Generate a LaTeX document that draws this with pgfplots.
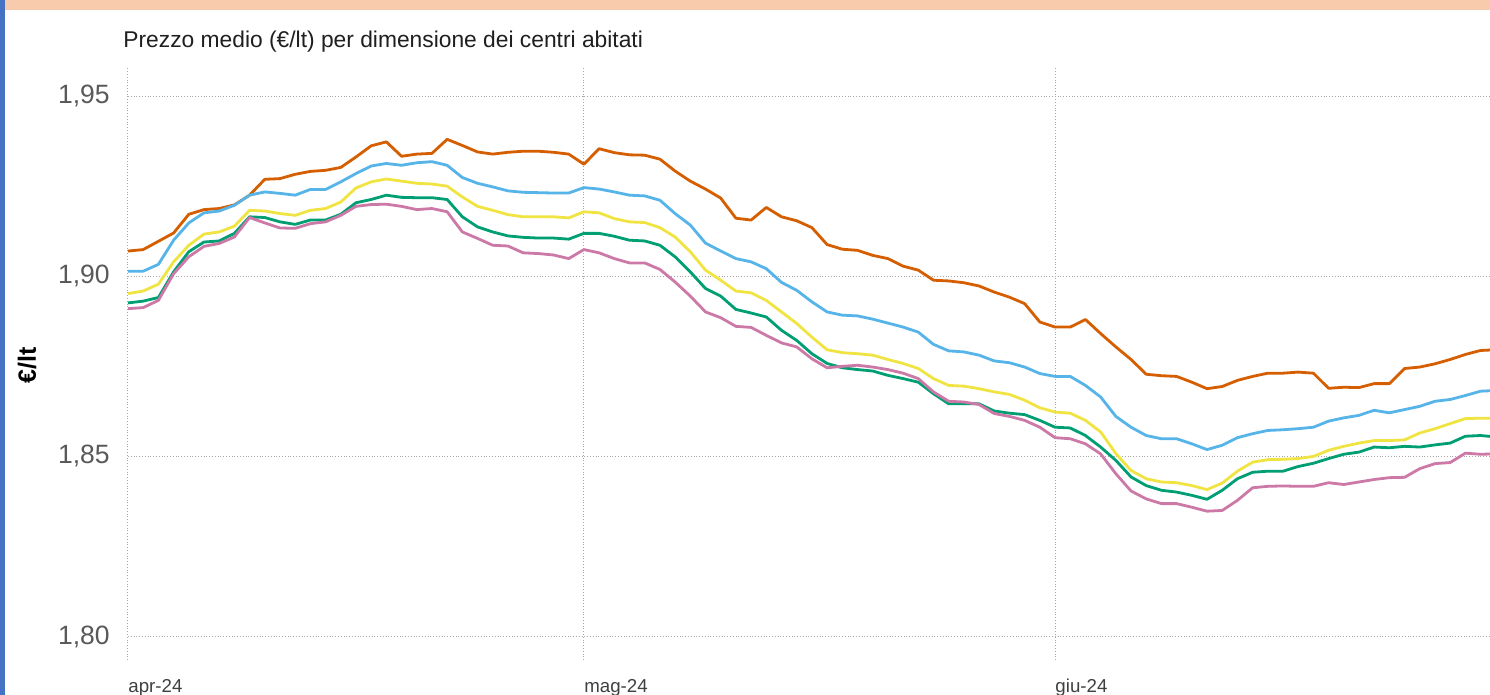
\documentclass[border=0pt]{standalone}
\usepackage{fontspec}
\setmainfont{Liberation Sans}
\usepackage{pgfplots}
\usepackage{pgfplotstable}
\pgfplotsset{compat=1.18}

\definecolor{c-ora}{HTML}{D55E00}
\definecolor{c-blu}{HTML}{56B4E9}
\definecolor{c-gia}{HTML}{F0E442}
\definecolor{c-ver}{HTML}{009E73}
\definecolor{c-ros}{HTML}{CC79A7}
\definecolor{c-peach}{HTML}{F8CBAD}
\definecolor{c-frame}{HTML}{4472C4}

% giorni dal 1 aprile 2024, prezzo medio in euro/litro
\pgfplotstableread{
day ora blu gia ver ros
0 1.9070 1.9014 1.8952 1.8926 1.8910
1 1.9074 1.9014 1.8959 1.8931 1.8913
2 1.9097 1.9033 1.8978 1.8941 1.8933
3 1.9120 1.9100 1.9040 1.9012 1.9007
4 1.9172 1.9148 1.9086 1.9068 1.9054
5 1.9185 1.9176 1.9117 1.9095 1.9083
6 1.9188 1.9181 1.9123 1.9098 1.9091
7 1.9198 1.9197 1.9139 1.9119 1.9109
8 1.9225 1.9225 1.9183 1.9165 1.9163
9 1.9269 1.9234 1.9181 1.9163 1.9148
10 1.9271 1.9230 1.9174 1.9151 1.9134
11 1.9283 1.9225 1.9169 1.9144 1.9133
12 1.9291 1.9241 1.9183 1.9156 1.9146
13 1.9294 1.9241 1.9188 1.9156 1.9151
14 1.9302 1.9262 1.9206 1.9172 1.9169
15 1.9331 1.9285 1.9245 1.9204 1.9194
16 1.9362 1.9306 1.9262 1.9213 1.9199
17 1.9373 1.9313 1.9270 1.9225 1.9200
18 1.9333 1.9308 1.9264 1.9219 1.9194
19 1.9339 1.9315 1.9258 1.9218 1.9185
20 1.9341 1.9318 1.9256 1.9218 1.9188
21 1.9380 1.9308 1.9250 1.9213 1.9179
22 1.9363 1.9274 1.9220 1.9165 1.9123
23 1.9345 1.9258 1.9194 1.9137 1.9105
24 1.9339 1.9248 1.9183 1.9123 1.9086
25 1.9344 1.9237 1.9171 1.9112 1.9084
26 1.9347 1.9233 1.9165 1.9108 1.9065
27 1.9347 1.9232 1.9165 1.9106 1.9063
28 1.9344 1.9231 1.9165 1.9106 1.9059
29 1.9339 1.9231 1.9162 1.9103 1.9049
30 1.9311 1.9246 1.9179 1.9119 1.9074
31 1.9354 1.9242 1.9176 1.9119 1.9065
32 1.9343 1.9234 1.9160 1.9111 1.9049
33 1.9337 1.9225 1.9151 1.9100 1.9037
34 1.9336 1.9223 1.9149 1.9098 1.9037
35 1.9325 1.9211 1.9135 1.9086 1.9019
36 1.9292 1.9174 1.9109 1.9054 1.8984
37 1.9264 1.9142 1.9068 1.9012 1.8945
38 1.9242 1.9092 1.9017 1.8966 1.8901
39 1.9217 1.9070 1.8989 1.8945 1.8885
40 1.9161 1.9049 1.8959 1.8908 1.8861
41 1.9156 1.9040 1.8954 1.8898 1.8858
42 1.9191 1.9021 1.8933 1.8887 1.8836
43 1.9165 1.8983 1.8901 1.8850 1.8815
44 1.9154 1.8961 1.8869 1.8822 1.8804
45 1.9135 1.8929 1.8831 1.8785 1.8771
46 1.9088 1.8901 1.8796 1.8758 1.8746
47 1.9075 1.8892 1.8788 1.8746 1.8750
48 1.9072 1.8890 1.8785 1.8741 1.8753
49 1.9058 1.8881 1.8781 1.8737 1.8748
50 1.9049 1.8870 1.8769 1.8725 1.8741
51 1.9028 1.8859 1.8758 1.8716 1.8731
52 1.9017 1.8845 1.8744 1.8706 1.8716
53 1.8989 1.8811 1.8716 1.8674 1.8679
54 1.8987 1.8793 1.8697 1.8646 1.8653
55 1.8982 1.8790 1.8695 1.8646 1.8651
56 1.8973 1.8781 1.8688 1.8646 1.8644
57 1.8956 1.8765 1.8679 1.8626 1.8619
58 1.8942 1.8760 1.8672 1.8620 1.8611
59 1.8924 1.8748 1.8656 1.8616 1.8600
60 1.8873 1.8730 1.8635 1.8600 1.8581
61 1.8859 1.8722 1.8623 1.8581 1.8552
62 1.8859 1.8722 1.8620 1.8579 1.8549
63 1.8880 1.8697 1.8600 1.8558 1.8535
64 1.8841 1.8665 1.8568 1.8526 1.8507
65 1.8804 1.8611 1.8508 1.8489 1.8452
66 1.8769 1.8581 1.8461 1.8443 1.8404
67 1.8728 1.8558 1.8438 1.8419 1.8382
68 1.8724 1.8549 1.8429 1.8406 1.8369
69 1.8722 1.8549 1.8427 1.8401 1.8369
70 1.8706 1.8535 1.8419 1.8392 1.8359
71 1.8688 1.8519 1.8408 1.8381 1.8348
72 1.8694 1.8531 1.8426 1.8406 1.8350
73 1.8711 1.8552 1.8459 1.8438 1.8378
74 1.8722 1.8563 1.8484 1.8456 1.8413
75 1.8731 1.8572 1.8491 1.8459 1.8417
76 1.8731 1.8574 1.8492 1.8459 1.8418
77 1.8734 1.8577 1.8494 1.8472 1.8417
78 1.8731 1.8581 1.8500 1.8481 1.8417
79 1.8689 1.8598 1.8517 1.8494 1.8427
80 1.8692 1.8607 1.8528 1.8506 1.8422
81 1.8691 1.8614 1.8537 1.8512 1.8429
82 1.8702 1.8628 1.8544 1.8526 1.8436
83 1.8702 1.8621 1.8544 1.8524 1.8441
84 1.8744 1.8630 1.8546 1.8528 1.8442
85 1.8748 1.8639 1.8565 1.8526 1.8466
86 1.8757 1.8653 1.8577 1.8532 1.8480
87 1.8769 1.8658 1.8591 1.8537 1.8483
88 1.8783 1.8669 1.8605 1.8556 1.8509
89 1.8794 1.8681 1.8606 1.8558 1.8506
90 1.8796 1.8683 1.8606 1.8554 1.8507
}\prezzi

\begin{document}
\begin{tikzpicture}
% cornice: 1 px del riferimento = 0.5pt
\path[use as bounding box] (-64pt,-17.5pt) rectangle (681pt,330pt);
\fill[white] (-64pt,-17.5pt) rectangle (681pt,330pt);
\fill[c-peach] (-64pt,325pt) rectangle (681pt,330pt);
\fill[c-frame] (-64pt,-17.5pt) rectangle (-61.5pt,330pt);

\node[anchor=west, inner sep=0pt, text=black!88, font=\fontsize{11.4}{13}\selectfont]
  at (-2.5pt,309pt) {Prezzo medio (€/lt) per dimensione dei centri abitati};
\node[rotate=90, inner sep=0pt, font=\bfseries\fontsize{12.5}{14}\selectfont]
  at (-50.5pt,147.5pt) {€/lt};

\begin{axis}[
    at={(0pt,0pt)}, anchor=south west,
    scale only axis,
    width=681pt, height=296pt,
    xmin=0, xmax=89.62,
    ymin=1.7935, ymax=1.9578,
    axis line style={draw=none},
    major tick length=0pt,
    xtick={0,30,61},
    xticklabels={apr-24,mag-24,giu-24},
    ytick={1.80,1.85,1.90,1.95},
    yticklabels={{1,80},{1,85},{1,90},{1,95}},
    grid=major,
    grid style={densely dotted, black!35, line width=0.5pt},
    xticklabel style={anchor=north west, inner sep=0pt, yshift=-9.5pt,
        font=\fontsize{9.35}{11}\selectfont, text=black!75},
    yticklabel style={anchor=east, inner sep=0pt, xshift=-9pt,
        font=\fontsize{13.25}{15}\selectfont, text=black!65},
    every axis plot/.append style={line width=1.4pt, no marks, line join=round},
]
\addplot[c-ora] table[x=day, y=ora] {\prezzi};
\addplot[c-blu] table[x=day, y=blu] {\prezzi};
\addplot[c-gia] table[x=day, y=gia] {\prezzi};
\addplot[c-ver] table[x=day, y=ver] {\prezzi};
\addplot[c-ros] table[x=day, y=ros] {\prezzi};
\end{axis}
\end{tikzpicture}
\end{document}
